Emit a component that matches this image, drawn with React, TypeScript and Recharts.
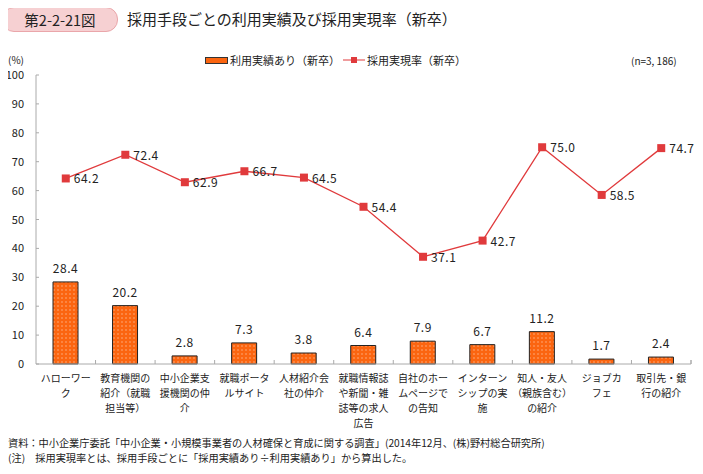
import React from "react";
import { Bar, ComposedChart, LabelList, Line, XAxis, YAxis } from "recharts";

// data
const categories = [
  "ハローワー\nク",
  "教育機関の\n紹介（就職\n担当等）",
  "中小企業支\n援機関の仲\n介",
  "就職ポータ\nルサイト",
  "人材紹介会\n社の仲介",
  "就職情報誌\nや新聞・雑\n誌等の求人\n広告",
  "自社のホー\nムページで\nの告知",
  "インターン\nシップの実\n施",
  "知人・友人\n（親族含む）\nの紹介",
  "ジョブカ\nフェ",
  "取引先・銀\n行の紹介",
];
const usageRates = [28.4, 20.2, 2.8, 7.3, 3.8, 6.4, 7.9, 6.7, 11.2, 1.7, 2.4];
const hireRates = [64.2, 72.4, 62.9, 66.7, 64.5, 54.4, 37.1, 42.7, 75.0, 58.5, 74.7];
const yTicks = [0, 10, 20, 30, 40, 50, 60, 70, 80, 90, 100];

const data = categories.map((c, i) => ({ name: c, usage: usageRates[i], hire: hireRates[i] }));

const FONT = "'Noto Sans CJK JP', 'Noto Sans', sans-serif";
const W = 703;
const H = 474;
const XH = 30;
const M = { top: 75, right: 12, bottom: 80, left: 0 };
const YW = 36;
const step = (W - YW - M.right) / categories.length;
const ORANGE = "#fb6510";
const RED = "#e03a3c";

const YTick = (props: any) => {
  const { x, y, payload } = props;
  return (
    <g>
      <line x1={x} x2={x + 3} y1={y} y2={y} stroke="#aaa" />
      <text x={x - 12} y={y} dy={4} textAnchor="end" fontSize={11} fill="#222" fontFamily={FONT}>
        {payload.value}
      </text>
    </g>
  );
};

const XTick = (props: any) => {
  const { x, y, payload } = props;
  const lines = String(payload.value).split("\n");
  return (
    <g>
      <line x1={x + step / 2} x2={x + step / 2} y1={y} y2={y - 4} stroke="#aaa" />
      {lines.map((l, i) => (
        <text key={i} x={x} y={y + 18 + i * 15} textAnchor="middle" fontSize={10} fill="#222" fontFamily={FONT}>
          {l}
        </text>
      ))}
    </g>
  );
};

const lineLabel = (props: any) => {
  const { x, y, value } = props;
  return (
    <text x={x + 8} y={y} dy={5} fontSize={12} fill="#222" fontFamily={FONT} letterSpacing={0.5}>
      {value.toFixed(1)}
    </text>
  );
};

const barLabel = (props: any) => {
  const { x, y, width, value } = props;
  return (
    <text x={x + width / 2} y={y - 9} textAnchor="middle" fontSize={12} fill="#222" fontFamily={FONT} letterSpacing={0.5}>
      {value.toFixed(1)}
    </text>
  );
};

const Square = (props: any) => {
  const { cx, cy } = props;
  return <rect x={cx - 4} y={cy - 4} width={8} height={8} fill={RED} />;
};

export default function App() {
  return (
    <div style={{ position: "relative", width: W, height: H, margin: -8, background: "#fff", fontFamily: FONT, color: "#222" }}>
      <div
        style={{
          position: "absolute",
          left: 2,
          top: 7,
          width: 114,
          height: 23,
          borderRadius: 12,
          background: "#f6d0d2",
          border: "1px solid #eaa6aa",
          fontSize: 14.5,
          lineHeight: "23px",
          textAlign: "center",
        }}
      >
        第2-2-21図
      </div>
      <div style={{ position: "absolute", left: 127, top: 8, fontSize: 15, lineHeight: "22px" }}>
        採用手段ごとの利用実績及び採用実現率（新卒）
      </div>
      <div style={{ position: "absolute", left: 8, top: 52, fontSize: 10 }}>(%)</div>
      <div style={{ position: "absolute", left: 205, top: 52, fontSize: 11, display: "flex", alignItems: "center" }}>
        <span style={{ display: "inline-block", width: 21, height: 5, background: ORANGE, border: "1px solid #333", marginRight: 2 }} />
        利用実績あり（新卒）
      </div>
      <div style={{ position: "absolute", left: 343, top: 52, fontSize: 11, display: "flex", alignItems: "center" }}>
        <svg width={22} height={10} style={{ marginRight: 2 }}>
          <line x1={0} x2={22} y1={5} y2={5} stroke={RED} />
          <rect x={8} y={2} width={6} height={6} fill={RED} />
        </svg>
        採用実現率（新卒）
      </div>
      <div style={{ position: "absolute", left: 631, top: 53, fontSize: 10 }}>(n=3, 186)</div>

      <div style={{ position: "absolute", left: 0, top: 0 }}>
        <ComposedChart width={W} height={H} data={data} margin={M}>
          <defs>
            <pattern id="dots" width="4" height="4" patternUnits="userSpaceOnUse">
              <rect width="4" height="4" fill={ORANGE} />
              <rect x="1.5" y="1.5" width="1" height="1" fill="#ffe6d2" />
            </pattern>
          </defs>
          <XAxis
            dataKey="name"
            height={XH}
            interval={0}
            tickLine={false}
            axisLine={{ stroke: "#aaa" }}
            tick={<XTick />}
            tickSize={0}
            tickMargin={0}
          />
          <YAxis
            width={YW}
            domain={[0, 100]}
            ticks={yTicks}
            interval={0}
            tickLine={false}
            axisLine={{ stroke: "#aaa" }}
            tick={<YTick />}
            tickSize={0}
            tickMargin={0}
          />
          <Bar dataKey="usage" barSize={25} fill="url(#dots)" stroke="#222" strokeWidth={1} isAnimationActive={false}>
            <LabelList dataKey="usage" content={barLabel} />
          </Bar>
          <Line
            dataKey="hire"
            stroke={RED}
            strokeWidth={1.3}
            dot={<Square />}
            activeDot={false}
            isAnimationActive={false}
          >
            <LabelList dataKey="hire" content={lineLabel} />
          </Line>
        </ComposedChart>
      </div>
      <svg style={{ position: "absolute", left: 0, top: 0, pointerEvents: "none" }} width={W} height={H}>
        <line x1={W - M.right} x2={W - M.right} y1={H - M.bottom - XH} y2={H - M.bottom - XH - 4} stroke="#aaa" />
      </svg>

      <div style={{ position: "absolute", left: 8, top: 435, fontSize: 10.2, lineHeight: "15px" }}>
        資料：中小企業庁委託「中小企業・小規模事業者の人材確保と育成に関する調査」(2014年12月、(株)野村総合研究所)
        <br />
        (注)　採用実現率とは、採用手段ごとに「採用実績あり÷利用実績あり」から算出した。
      </div>
    </div>
  );
}
